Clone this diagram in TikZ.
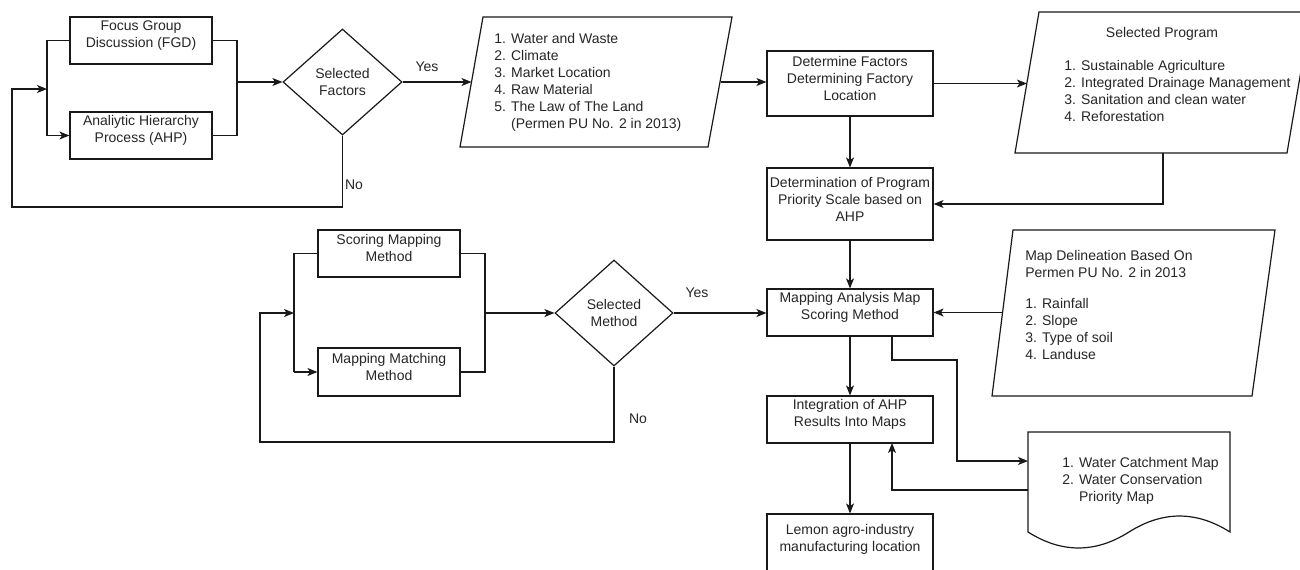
\documentclass[tikz,border=0pt]{standalone}
\usepackage{fontspec}
\setmainfont{Liberation Sans}
\usetikzlibrary{arrows.meta,shapes.geometric,fit}
\begin{document}
\begin{tikzpicture}[x=0.75pt,y=-0.75pt,
  font=\fontsize{10.5pt}{12.75pt}\selectfont,
  every node/.style={text=black!85},
  ln/.style={line width=0.9pt, draw=black!90},
  arr/.style={ln, -{Stealth[length=7.5pt,width=6pt,inset=2pt]}},
  box/.style={draw=black!90, line width=0.9pt, inner sep=0pt, align=center},
  dec/.style={draw=black!90, line width=0.9pt, diamond, inner sep=0pt, align=center},
  txt/.style={inner sep=0pt, align=left, anchor=west},
  lbl/.style={inner sep=0pt}]
\useasboundingbox (0,0) rectangle (1300,569);
\fill[white] (0,0) rectangle (1300,569);
\clip (0,0) rectangle (1300,569);

% ---------- top-left group ----------
\node[box, fit={(70,17)(212,64)}] (fgd) {Focus Group\\Discussion (FGD)};
\node[box, fit={(70,112)(212,159)}] (ahp) {Analiytic Hierarchy\\Process (AHP)};
\node[dec, minimum width=89.25pt, minimum height=79.5pt] (sf) at (342.5,82) {Selected\\Factors};
\coordinate (lj) at (47,89);
\coordinate (rj) at (237,82);
\coordinate (lp1) at (12,207);
\draw[ln] (fgd.west) -- (fgd.west -| lj) -- (ahp.west -| lj);
\draw[arr] (ahp.west -| lj) -- (ahp.west);
\draw[ln] (fgd.east) -- (fgd.east -| rj) -- (ahp.east -| rj) -- (ahp.east);
\draw[arr] (rj) -- (sf.west);
\draw[arr] (sf.south) |- (lp1) |- (lj);
\node[lbl] (y1) at (427,67) {Yes};
\node[lbl] (n1) at (354,185) {No};

% ---------- factors parallelogram ----------
\coordinate (fa) at (483,17);
\coordinate (fb) at (732,17);
\coordinate (fc) at (708,147);
\coordinate (fd) at (460,147);
\draw[ln] (fa) -- (fb) -- (fc) -- (fd) -- cycle;
\coordinate (fin) at (471.5,82);
\coordinate (fout) at (720.5,82);
\draw[arr] (sf.east) -- (fin);
\node[txt] (ftx) at (494,82.5) {1. Water and Waste\\2. Climate\\3. Market Location\\4. Raw Material\\5. The Law of The Land\\\phantom{5. }(Permen PU No. 2 in 2013)};

% ---------- determine ----------
\node[box, fit={(767,51)(933,116)}] (det) {Determine Factors\\Determining Factory\\Location};
\draw[arr] (fout) -- (fout -| det.west);

% ---------- selected program ----------
\coordinate (sa) at (1039,12);
\coordinate (sb) at (1311,12);
\coordinate (sc2) at (1287,153);
\coordinate (sd) at (1015,153);
\draw[ln] (sa) -- (sb) -- (sc2) -- (sd) -- cycle;
\coordinate (spin) at (1026.9,83.5);
\draw[arr] (det.east) -- (spin);
\node[lbl] (sph) at (1162,34) {Selected Program};
\node[txt] (spt) at (1064,91) {1. Sustainable Agriculture\\2. Integrated Drainage Management\\3. Sanitation and clean water\\4. Reforestation};

% ---------- determination ----------
\node[box, fit={(767,168)(933,240)}] (dp) {Determination of Program\\Priority Scale based on\\AHP};
\draw[arr] (det.south) -- (dp.north);
\coordinate (spout) at (1163,153);
\draw[arr] (spout) |- (dp.east);

% ---------- mapping analysis ----------
\node[box, fit={(767,289)(933,336)}] (ma) {Mapping Analysis Map\\Scoring Method};
\draw[arr] (dp.south) -- (ma.north);

% ---------- map delineation ----------
\coordinate (ma1) at (1013,230);
\coordinate (ma2) at (1275,230);
\coordinate (ma3) at (1252,396);
\coordinate (ma4) at (992,396);
\draw[ln] (ma1) -- (ma2) -- (ma3) -- (ma4) -- cycle;
\coordinate (mdin) at (1002.5,312.5);
\draw[arr] (mdin) -- (ma.east);
\node[txt] (mdh) at (1025,264) {Map Delineation Based On\\Permen PU No. 2 in 2013};
\node[txt] (mdt) at (1025,329) {1. Rainfall\\2. Slope\\3. Type of soil\\4. Landuse};

% ---------- lower-left group ----------
\node[box, fit={(318,230)(460,277)}] (sc) {Scoring Mapping\\Method};
\node[box, fit={(318,348)(460,396)}] (mm) {Mapping Matching\\Method};
\node[dec, minimum width=88.5pt, minimum height=79.5pt] (sm) at (614,313) {Selected\\Method};
\coordinate (lj2) at (294,313);
\coordinate (rj2) at (485,313);
\coordinate (lp2) at (260,442);
\draw[ln] (sc.west) -- (sc.west -| lj2) -- (mm.west -| lj2);
\draw[arr] (mm.west -| lj2) -- (mm.west);
\draw[ln] (sc.east) -- (sc.east -| rj2) -- (mm.east -| rj2) -- (mm.east);
\draw[arr] (rj2) -- (sm.west);
\draw[arr] (sm.south) |- (lp2) |- (lj2);
\node[lbl] (n2) at (638,419) {No};
\draw[arr] (sm.east) -- (sm.east -| ma.west);
\node[lbl] (y2) at (697,293) {Yes};

% ---------- integration & result ----------
\node[box, fit={(767,396)(933,443)}] (ia) {Integration of AHP\\Results Into Maps};
\draw[arr] (ma.south) -- (ia.north);
\node[box, fit={(767,514)(933,574)}] (lm) {Lemon agro-industry\\manufacturing location};
\draw[arr] (ia.south) -- (lm.north);

% ---------- document shape ----------
\draw[ln] (1028,432) -- (1230,432) -- (1230,532)
  .. controls (1196.3,510.7) and (1162.7,510.7) .. (1129,532)
  .. controls (1095.3,553.3) and (1061.7,553.3) .. (1028,532) -- cycle;
\node[txt] (dct) at (1062,481) {1. Water Catchment Map\\2. Water Conservation\\\phantom{2. }Priority Map};
\coordinate (maout) at (892,336);
\coordinate (mt) at (957,360);
\coordinate (dcin) at (1028,461);
\coordinate (dcout) at (1028,490);
\coordinate (iain) at (892,443);
\draw[arr] (maout) |- (mt) |- (dcin);
\draw[arr] (dcout) -| (iain);
\end{tikzpicture}
\end{document}
